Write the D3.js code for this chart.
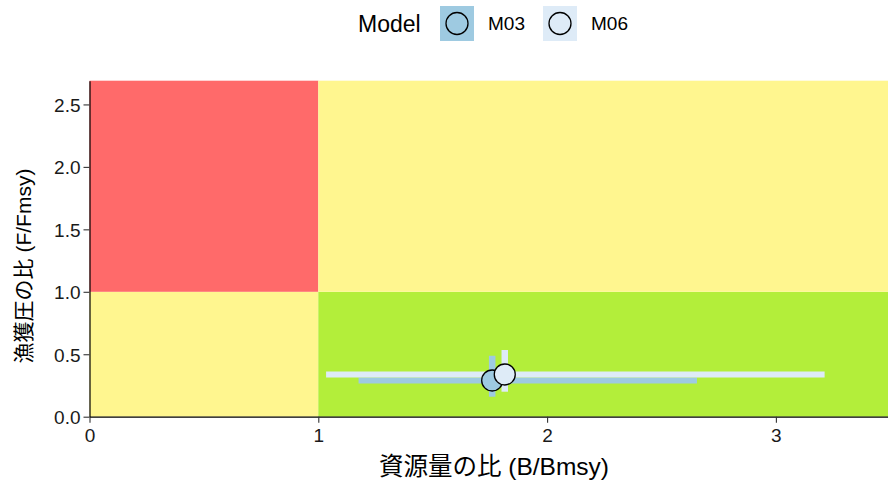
<!DOCTYPE html>
<html>
<head>
<meta charset="utf-8">
<script src="https://cdn.jsdelivr.net/npm/d3@7/dist/d3.min.js"></script>
<style>
  html, body { margin: 0; padding: 0; background: #ffffff; }
  svg { display: block; }
  text { font-family: "Liberation Sans", Arial, "Noto Sans CJK JP", sans-serif; }
</style>
</head>
<body>
<svg id="chart" width="888" height="482"></svg>
<script>
// ---- data ----
const models = ["M03", "M06"];
const bRatio = [1.76, 1.815];
const fRatio = [0.29, 0.338];
const bLow = [1.176, 1.034];
const bHigh = [2.655, 3.213];
const fLow = [0.16, 0.2];
const fHigh = [0.488, 0.534];
const modelFills = ["#9ecae1", "#deebf7"];

const xTicks = [0, 1, 2, 3];
const yTicks = [0, 0.5, 1.0, 1.5, 2.0, 2.5];
const xDomain = [0, 3.49];
const yDomain = [0, 2.69];
// zone boundaries (B/Bmsy = 1, F/Fmsy = 1)
const zoneX0 = [0, 0, 1, 1];
const zoneX1 = [1, 1, 3.49, 3.49];
const zoneY0 = [0, 1, 0, 1];
const zoneY1 = [1, 2.69, 1, 2.69];
const zoneFills = ["#FFF68F", "#FF6A6A", "#B3EE3A", "#FFF68F"];

const xTitle = "資源量の比 (B/Bmsy)";
const yTitle = "漁獲圧の比 (F/Fmsy)";
const legendTitle = "Model";

// ---- layout ----
const svg = d3.select("#chart");
const pLeft = 89.5, pRight = 888, pTop = 80.7, pBottom = 416.7;
const x = d3.scaleLinear().domain(xDomain).range([pLeft, pRight]);
const y = d3.scaleLinear().domain(yDomain).range([pBottom, pTop]);

// zones
svg.append("g").selectAll("rect").data(zoneFills).join("rect")
  .attr("x", (d, i) => x(zoneX0[i]))
  .attr("y", (d, i) => y(zoneY1[i]))
  .attr("width", (d, i) => x(zoneX1[i]) - x(zoneX0[i]))
  .attr("height", (d, i) => y(zoneY0[i]) - y(zoneY1[i]))
  .attr("fill", d => d);

// error bars
const g = svg.append("g");
models.forEach((m, i) => {
  g.append("line")
    .attr("x1", x(bLow[i])).attr("x2", x(bHigh[i]))
    .attr("y1", y(fRatio[i])).attr("y2", y(fRatio[i]))
    .attr("stroke", modelFills[i]).attr("stroke-width", 6);
  g.append("line")
    .attr("x1", x(bRatio[i])).attr("x2", x(bRatio[i]))
    .attr("y1", y(fLow[i])).attr("y2", y(fHigh[i]))
    .attr("stroke", modelFills[i]).attr("stroke-width", 6.5);
});
// points
g.selectAll("circle").data(models).join("circle")
  .attr("cx", (d, i) => x(bRatio[i]))
  .attr("cy", (d, i) => y(fRatio[i]))
  .attr("r", 10.5)
  .attr("fill", (d, i) => modelFills[i])
  .attr("stroke", "#000").attr("stroke-width", 1.3);

// axes
const xAxis = svg.append("g").attr("transform", `translate(0,${pBottom})`)
  .call(d3.axisBottom(x).tickValues(xTicks).tickFormat(d3.format("d")).tickSize(6).tickSizeOuter(0));
const yAxis = svg.append("g").attr("transform", `translate(${pLeft},0)`)
  .call(d3.axisLeft(y).tickValues(yTicks).tickFormat(d3.format(".1f")).tickSize(6).tickSizeOuter(0));
[xAxis, yAxis].forEach(a => {
  a.select(".domain").attr("stroke", "#000").attr("stroke-width", 1.2);
  a.selectAll(".tick line").attr("stroke", "#333").attr("stroke-width", 1.1);
  a.selectAll(".tick text").attr("fill", "#1a1a1a").style("font-size", "19px")
    .style("font-family", '"Liberation Sans", Arial, sans-serif');
});
xAxis.selectAll(".tick text").attr("y", 9).attr("dy", "0.88em");
yAxis.selectAll(".tick text").attr("x", -9).attr("dy", "0.36em");

// titles
svg.append("text").attr("x", 494).attr("y", 475)
  .attr("text-anchor", "middle").style("font-size", "24.5px").attr("fill", "#000").text(xTitle);
svg.append("text").attr("transform", `translate(31,266) rotate(-90)`)
  .attr("text-anchor", "middle").style("font-size", "21px").attr("fill", "#000").text(yTitle);

// legend
const lg = svg.append("g");
lg.append("text").attr("x", 358).attr("y", 32).style("font-size", "23px").attr("fill", "#000").text(legendTitle);
const keyX = [440, 543];
models.forEach((m, i) => {
  lg.append("rect").attr("x", keyX[i]).attr("y", 6).attr("width", 34).attr("height", 35).attr("fill", modelFills[i]);
  lg.append("circle").attr("cx", keyX[i] + 17).attr("cy", 23.5).attr("r", 11)
    .attr("fill", modelFills[i]).attr("stroke", "#000").attr("stroke-width", 1.3);
  lg.append("text").attr("x", keyX[i] + 48).attr("y", 30).style("font-size", "19px").attr("fill", "#000").text(m);
});
</script>
</body>
</html>
